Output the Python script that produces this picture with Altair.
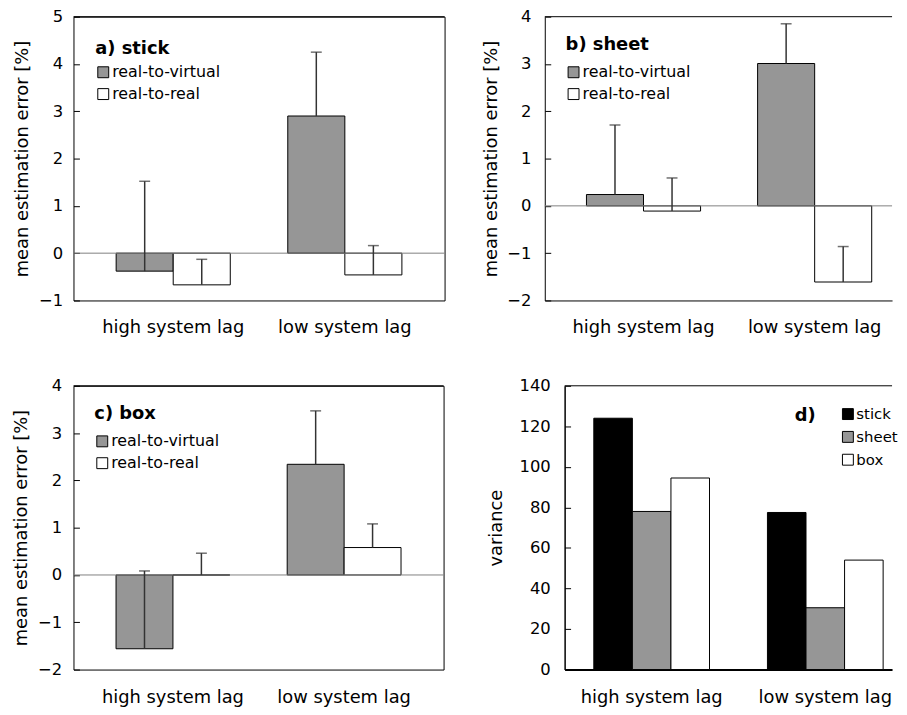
import altair as alt
import pandas as pd

# ---------------- data ----------------
groups = ["high system lag", "low system lag"]

err_series = ["real-to-virtual", "real-to-real"]
err_colors = ["#969696", "#ffffff"]

# panel a) stick
a_rtv = [-0.38, 2.90]
a_rtv_err = [1.90, 1.35]
a_rtr = [-0.67, -0.46]
a_rtr_err = [0.54, 0.62]

# panel b) sheet
b_rtv = [0.24, 3.01]
b_rtv_err = [1.47, 0.84]
b_rtr = [-0.11, -1.61]
b_rtr_err = [0.70, 0.75]

# panel c) box
c_rtv = [-1.56, 2.34]
c_rtv_err = [1.645, 1.13]
c_rtr = [0.0, 0.58]
c_rtr_err = [0.46, 0.50]

# panel d) variance
var_series = ["stick", "sheet", "box"]
var_colors = ["#000000", "#969696", "#ffffff"]
var_stick = [124.0, 77.5]
var_sheet = [78.0, 30.5]
var_box = [94.5, 54.0]

ticks_a = [-1, 0, 1, 2, 3, 4, 5]
ticks_bc = [-2, -1, 0, 1, 2, 3, 4]
ticks_d = [0, 20, 40, 60, 80, 100, 120, 140]

FONT = "DejaVu Sans"
H = 286


def err_frame(rtv, rtv_err, rtr, rtr_err):
    rows = []
    for i, g in enumerate(groups):
        rows.append(dict(group=g, series=err_series[0], value=rtv[i], upper=rtv[i] + rtv_err[i]))
        rows.append(dict(group=g, series=err_series[1], value=rtr[i], upper=rtr[i] + rtr_err[i]))
    return pd.DataFrame(rows)


def var_frame():
    rows = []
    for i, g in enumerate(groups):
        for s, vals in zip(var_series, [var_stick, var_sheet, var_box]):
            rows.append(dict(group=g, series=s, value=vals[i]))
    return pd.DataFrame(rows)


def panel(df, series, colors, ticks, W, pin, pout, align, legend, label_pad,
          title, title_pad, bordered, with_err, bottom_width=1.0, left_width=1.0,
          xlab_pad=18):
    ymin, ymax = ticks[0], ticks[-1]
    yscale = alt.Scale(domain=[ymin, ymax], nice=False, zero=False)
    x = alt.X(
        "group:N", sort=groups,
        scale=alt.Scale(domain=groups, paddingInner=pin, paddingOuter=pout, align=align),
        axis=alt.Axis(title=None, labelAngle=0, labelFontSize=18, labelPadding=xlab_pad,
                      ticks=False, tickSize=0, domain=not bordered, domainColor="black",
                      domainWidth=bottom_width, labelColor="black", grid=False),
    )
    xo = alt.XOffset("series:N", sort=series,
                     scale=alt.Scale(domain=series, paddingInner=0, paddingOuter=0))
    base = alt.Chart(df)
    bars = base.mark_bar(stroke="black", strokeWidth=1).encode(
        x=x, xOffset=xo,
        y=alt.Y("value:Q", scale=yscale,
                axis=alt.Axis(title=title, values=ticks, format="d", orient="left",
                              ticks=False, tickSize=0, labelPadding=label_pad,
                              labelFontSize=16.5, titleFontSize=18, titlePadding=title_pad,
                              titleFontWeight="normal", domain=not bordered,
                              domainColor="black", domainWidth=left_width, grid=False,
                              labelColor="black", titleColor="black")),
        color=alt.Color("series:N", sort=series,
                        scale=alt.Scale(domain=series, range=colors), legend=legend),
    )
    layers = [bars]
    if with_err:
        zero = alt.Chart(pd.DataFrame({"y": [0]})).mark_rule(color="#808080", strokeWidth=1).encode(
            y=alt.Y("y:Q", scale=yscale, axis=None))
        err = base.mark_rule(color="#333333", strokeWidth=1.5).encode(
            x=x, xOffset=xo, y=alt.Y("value:Q", scale=yscale, axis=None), y2="upper:Q")
        cap = base.mark_tick(color="#333333", size=11, thickness=1.5).encode(
            x=x, xOffset=xo, y=alt.Y("upper:Q", scale=yscale, axis=None))
        layers += [zero, err, cap]
    top = alt.Chart(pd.DataFrame({"y": [ymax]})).mark_rule(color="black", strokeWidth=1).encode(
        y=alt.Y("y:Q", scale=yscale,
                axis=alt.Axis(orient="right", offset=-W, values=ticks, labels=False,
                              domain=False, ticks=True, tickSize=6, tickColor="black",
                              tickWidth=1, title=None, grid=False)))
    layers.append(top)
    view = alt.ViewBackground(stroke="black", strokeWidth=1) if bordered else \
        alt.ViewBackground(stroke="transparent")
    return alt.layer(*layers).resolve_axis(y="independent").properties(
        width=W, height=H, view=view)


def make_legend(title, lx, ly, tpad, lsize=16, rpad=6, orient_left=False):
    kw = dict(title=title, orient="none", legendX=lx, legendY=ly,
              titleFontSize=18, titleFontWeight="bold", titleColor="black",
              titlePadding=tpad, labelFontSize=lsize, labelColor="black",
              symbolType="square", symbolSize=121, symbolStrokeColor="black",
              symbolStrokeWidth=1, rowPadding=rpad, labelOffset=1, padding=0,
              titleAnchor="start")
    if orient_left:
        kw["titleOrient"] = "left"
    return alt.Legend(**kw)


ytitle = "mean estimation error [%]"

pa = panel(err_frame(a_rtv, a_rtv_err, a_rtr, a_rtr_err), err_series, err_colors, ticks_a,
           374, 0.335, 0.2486, 0.5, make_legend("a) stick", 22, 24, 6), 11, ytitle, 7,
           True, True)
pb = panel(err_frame(b_rtv, b_rtv_err, b_rtr, b_rtr_err), err_series, err_colors, ticks_bc,
           350, 0.3333, 0.1812, 0.672, make_legend("b) sheet", 21, 20, 10), 14, ytitle, 6,
           False, True)
pc = panel(err_frame(c_rtv, c_rtv_err, c_rtr, c_rtr_err), err_series, err_colors, ticks_bc,
           373, 0.335, 0.2486, 0.5, make_legend("c) box", 21, 19, 11), 12, ytitle, 7,
           True, True, xlab_pad=19)
pd_ = panel(var_frame(), var_series, var_colors, ticks_d,
            330, 0.3337, 0.1097, 0.766,
            make_legend("d)", 232, 21, 24, lsize=15, rpad=7, orient_left=True),
            14.5, "variance", 14, False, False, bottom_width=2, left_width=1.5, xlab_pad=19)

res = dict(color="independent", x="independent", xOffset="independent", y="independent")
row1 = alt.hconcat(pa, pb, spacing=37).resolve_scale(**res).resolve_legend(color="independent")
row2 = alt.hconcat(pc, pd_, spacing=42).resolve_scale(**res).resolve_legend(color="independent")

chart = alt.vconcat(row1, row2, spacing=40).resolve_scale(**res).resolve_legend(
    color="independent").properties(
    padding={"left": 4, "top": -3, "right": 0, "bottom": 0}
).configure(font=FONT).configure_axis(labelFont=FONT, titleFont=FONT).configure_legend(
    labelFont=FONT, titleFont=FONT)

chart.save("out.html", embed_options={"renderer": "svg", "actions": False})
